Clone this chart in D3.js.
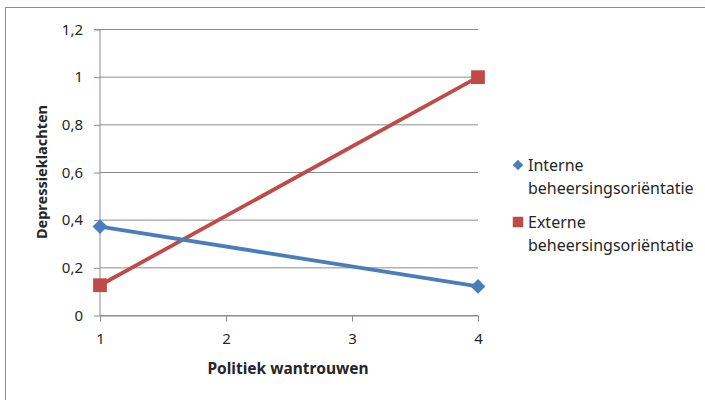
<!DOCTYPE html>
<html>
<head>
<meta charset="utf-8">
<script src="https://cdn.jsdelivr.net/npm/d3@7"></script>
<style>
	body { margin: 0; background: #fff; }
	text { font-family: "Noto Sans", "Open Sans", sans-serif; fill: #262626; }
</style>
</head>
<body>
<script>
let xTicks = [1, 2, 3, 4];
let yTicks = [0, 0.2, 0.4, 0.6, 0.8, 1, 1.2];
let seriesNames = ["Interne beheersingsoriëntatie", "Externe beheersingsoriëntatie"];
let interne = [{x: 1, y: 0.373}, {x: 4, y: 0.122}];
let externe = [{x: 1, y: 0.127}, {x: 4, y: 1.0}];

let width = 705, height = 400;

let svg = d3.select("body").append("svg")
	.attr("width", width)
	.attr("height", height);

// outer chart frame
svg.append("rect")
	.attr("x", 5.5).attr("y", 7.5)
	.attr("width", 720).attr("height", 420)
	.attr("fill", "none")
	.attr("stroke", "#8c8c8c");

let x = d3.scaleLinear().domain([1, 4]).range([100, 478]);
let y = d3.scaleLinear().domain([0, 1.2]).range([315.5, 29.5]);

let fmt = d => String(d).replace(".", ",");

// gridlines
svg.append("g")
	.selectAll("line")
	.data(yTicks)
	.enter().append("line")
	.attr("x1", x(1)).attr("x2", x(4))
	.attr("y1", d => y(d)).attr("y2", d => y(d))
	.attr("stroke", "#8c8c8c");

let yAxis = svg.append("g")
	.attr("transform", `translate(${x(1)},0)`)
	.call(d3.axisLeft(y).tickValues(yTicks).tickFormat(fmt).tickSize(6).tickPadding(11));

let xAxis = svg.append("g")
	.attr("transform", `translate(0,${y(0)})`)
	.call(d3.axisBottom(x).tickValues(xTicks).tickFormat(d3.format("d")).tickSize(6).tickPadding(12));

[yAxis, xAxis].forEach(a => {
	a.select(".domain").attr("stroke", "#8c8c8c");
	a.selectAll(".tick line").attr("stroke", "#8c8c8c");
	a.selectAll(".tick text")
		.style("font-size", "15px")
		.style("font-family", "'Noto Sans', sans-serif")
		.attr("fill", "#262626");
});
yAxis.select(".domain").attr("d", `M-6,${y(1.2)}H0V${y(0)}`);

// axis titles
svg.append("text")
	.attr("transform", `translate(47,172) rotate(-90)`)
	.attr("text-anchor", "middle")
	.style("font-size", "14.5px")
	.style("font-weight", "bold")
	.text("Depressieklachten");

svg.append("text")
	.attr("x", 288).attr("y", 374)
	.attr("text-anchor", "middle")
	.style("font-size", "15.5px")
	.style("font-weight", "bold")
	.text("Politiek wantrouwen");

let line = d3.line().x(d => x(d.x)).y(d => y(d.y));

let blue = "#4a7ebb", red = "#be4b48";

svg.append("path")
	.datum(externe)
	.attr("d", line)
	.attr("fill", "none")
	.attr("stroke", red)
	.attr("stroke-width", 3.8);

svg.append("path")
	.datum(interne)
	.attr("d", line)
	.attr("fill", "none")
	.attr("stroke", blue)
	.attr("stroke-width", 3.8);

svg.append("g").selectAll("path")
	.data(interne)
	.enter().append("path")
	.attr("transform", d => `translate(${x(d.x)},${y(d.y)}) rotate(45)`)
	.attr("d", d3.symbol().type(d3.symbolSquare).size(110))
	.attr("fill", blue);

svg.append("g").selectAll("path")
	.data(externe)
	.enter().append("path")
	.attr("transform", d => `translate(${x(d.x)},${y(d.y)})`)
	.attr("d", d3.symbol().type(d3.symbolSquare).size(190))
	.attr("fill", red);

// legend
let legend = svg.append("g");
let legendItems = [
	{name: seriesNames[0], color: blue, y: 165, shape: "diamond"},
	{name: seriesNames[1], color: red, y: 222, shape: "square"}
];
legendItems.forEach(it => {
	let parts = it.name.split(" ");
	if (it.shape === "diamond") {
		legend.append("path")
			.attr("transform", `translate(518,${it.y}) rotate(45)`)
			.attr("d", d3.symbol().type(d3.symbolSquare).size(55))
			.attr("fill", it.color);
	} else {
		legend.append("path")
			.attr("transform", `translate(518,${it.y})`)
			.attr("d", d3.symbol().type(d3.symbolSquare).size(110))
			.attr("fill", it.color);
	}
	legend.append("text")
		.attr("x", 528).attr("y", it.y + 6)
		.style("font-size", "16px")
		.text(parts[0]);
	legend.append("text")
		.attr("x", 528).attr("y", it.y + 29)
		.style("font-size", "16px")
		.text(parts[1]);
});
</script>
</body>
</html>
